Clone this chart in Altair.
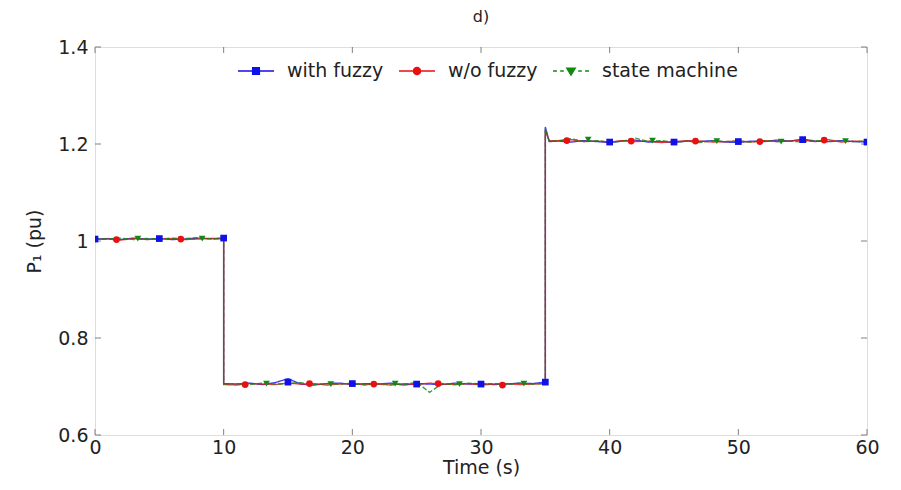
import altair as alt
import pandas as pd

series_names = ["with fuzzy", "w/o fuzzy", "state machine"]
series_colors = ["#1010e8", "#e81010", "#108a10"]
marker_shapes = ["square", "circle", "triangle-down"]
legend_paths = [
    "M-1,0H-0.19M0.19,0H1M-0.19,-0.19H0.19V0.19H-0.19Z",
    "M-1,0H-0.2M0.2,0H1M0.2,0A0.2,0.2,0,1,1,-0.2,0A0.2,0.2,0,1,1,0.2,0Z",
    "M-1,0H-0.78M-0.6,0H-0.4M0.4,0H0.6M0.78,0H1M-0.24,-0.16L0.24,-0.16L0,0.24Z",
]

x_ticks = [0, 10, 20, 30, 40, 50, 60]
y_ticks = [0.6, 0.8, 1.0, 1.2, 1.4]

# time stamps of the recorded curves (s)
time_s = [0, 1, 2, 3, 4, 5, 6, 7, 8, 9, 10,
          10, 11, 12, 13, 14, 15, 16, 17, 18, 19, 20, 21, 22, 23, 24, 25,
          26, 27, 28, 29, 30, 31, 32, 33, 34, 35,
          35, 35.3, 36, 37, 38, 39, 40, 41, 42, 43, 44, 45, 46, 47, 48,
          49, 50, 51, 52, 53, 54, 55, 56, 57, 58, 59, 60]

p_with = [1.004, 1.005, 1.003, 1.006, 1.004, 1.005, 1.003, 1.004, 1.006, 1.005, 1.006,
          0.706, 0.705, 0.707, 0.704, 0.708, 0.716, 0.705, 0.703, 0.706, 0.707, 0.704,
          0.706, 0.705, 0.707, 0.703, 0.706, 0.705, 0.704, 0.707, 0.705, 0.706, 0.704,
          0.705, 0.707, 0.706, 0.709,
          1.235, 1.205, 1.206, 1.204, 1.207, 1.205, 1.203, 1.206, 1.208, 1.204, 1.205,
          1.203, 1.206, 1.205, 1.207, 1.204, 1.203, 1.206, 1.205, 1.208, 1.206, 1.210,
          1.206, 1.205, 1.207, 1.205, 1.204]

p_wo = [1.003, 1.004, 1.002, 1.005, 1.003, 1.004, 1.005, 1.003, 1.004, 1.005, 1.004,
        0.704, 0.703, 0.706, 0.705, 0.704, 0.707, 0.705, 0.706, 0.703, 0.705, 0.706,
        0.704, 0.705, 0.703, 0.706, 0.704, 0.707, 0.705, 0.704, 0.706, 0.703, 0.705,
        0.706, 0.704, 0.705, 0.706,
        1.228, 1.207, 1.207, 1.209, 1.205, 1.206, 1.204, 1.207, 1.205, 1.206, 1.203,
        1.205, 1.207, 1.206, 1.204, 1.205, 1.206, 1.204, 1.207, 1.205, 1.206, 1.208,
        1.205, 1.209, 1.204, 1.206, 1.205]

p_sm = [1.005, 1.004, 1.006, 1.003, 1.005, 1.004, 1.006, 1.005, 1.007, 1.004, 1.005,
        0.705, 0.706, 0.704, 0.707, 0.705, 0.706, 0.708, 0.704, 0.706, 0.705, 0.707,
        0.703, 0.706, 0.705, 0.704, 0.709, 0.688, 0.706, 0.704, 0.707, 0.705, 0.706,
        0.704, 0.707, 0.705, 0.706,
        1.232, 1.206, 1.206, 1.211, 1.205, 1.207, 1.204, 1.206, 1.212, 1.205, 1.207,
        1.204, 1.206, 1.203, 1.207, 1.205, 1.206, 1.204, 1.207, 1.205, 1.206, 1.204,
        1.207, 1.205, 1.206, 1.205, 1.206]

# marker positions
mk_t_with = [0, 5, 10, 15, 20, 25, 30, 35, 40, 45, 50, 55, 60]
mk_p_with = [1.004, 1.005, 1.006, 0.709, 0.706, 0.705, 0.705, 0.709, 1.204, 1.204, 1.205, 1.209, 1.204]
mk_t_wo = [1.67, 6.67, 11.67, 16.67, 21.67, 26.67, 31.67, 36.67, 41.67, 46.67, 51.67, 56.67]
mk_p_wo = [1.003, 1.004, 0.704, 0.706, 0.705, 0.706, 0.703, 1.207, 1.206, 1.206, 1.205, 1.208]
mk_t_sm = [3.33, 8.33, 13.33, 18.33, 23.33, 28.33, 33.33, 38.33, 43.33, 48.33, 53.33, 58.33]
mk_p_sm = [1.005, 1.005, 0.706, 0.705, 0.706, 0.705, 0.706, 1.209, 1.207, 1.206, 1.205, 1.206]

rows = []
for name, vals in zip(series_names, [p_with, p_wo, p_sm]):
    for i, (t, p) in enumerate(zip(time_s, vals)):
        rows.append({"t": t, "P": p, "series": name, "idx": i})
lines_df = pd.DataFrame(rows)

mrows = []
for name, ts, ps in zip(series_names, [mk_t_with, mk_t_wo, mk_t_sm], [mk_p_with, mk_p_wo, mk_p_sm]):
    for t, p in zip(ts, ps):
        mrows.append({"t": t, "P": p, "series": name})
markers_df = pd.DataFrame(mrows)

xt_df = pd.DataFrame({"t": x_ticks})
yt_df = pd.DataFrame({"P": y_ticks})

FONT = "DejaVu Sans"
TXT = "#222222"
BOX = "#808080"
W, H = 772, 388

x_scale = alt.Scale(domain=[0, 60], nice=False, zero=False)
y_scale = alt.Scale(domain=[0.6, 1.4], nice=False, zero=False)
x_axis = alt.Axis(values=x_ticks, title="Time (s)", ticks=False, domain=False, grid=False,
                  labelPadding=3, titlePadding=1, labelFontSize=19, titleFontSize=19,
                  labelFont=FONT, titleFont=FONT, titleFontWeight="normal",
                  labelColor=TXT, titleColor=TXT, labelFlush=False)
y_axis = alt.Axis(values=y_ticks, title="P\u2081 (pu)", ticks=False, domain=False, grid=False,
                  format=".1~f", labelPadding=7, titlePadding=13, labelFontSize=19,
                  titleFontSize=19, labelFont=FONT, titleFont=FONT, titleFontWeight="normal",
                  labelColor=TXT, titleColor=TXT, labelFlush=False)

X = alt.X("t:Q", scale=x_scale, axis=x_axis)
Y = alt.Y("P:Q", scale=y_scale, axis=y_axis)

color_scale = alt.Scale(domain=series_names, range=series_colors)

lines = alt.Chart(lines_df).mark_line(strokeWidth=1.4, opacity=0.8, clip=True).encode(
    x=X, y=Y,
    color=alt.Color("series:N", scale=color_scale, legend=None),
    strokeDash=alt.StrokeDash("series:N",
                              scale=alt.Scale(domain=series_names, range=[[1, 0], [1, 0], [5, 2]]),
                              legend=None),
    order="idx:Q",
)

markers = alt.Chart(markers_df).mark_point(filled=True, opacity=1, size=45, clip=True).encode(
    x=X, y=Y,
    color=alt.Color("series:N", scale=color_scale, legend=None),
    shape=alt.Shape("series:N", scale=alt.Scale(domain=series_names, range=marker_shapes), legend=None),
)

leg = alt.Legend(title=None, orient="none", legendX=142, legendY=5, direction="horizontal",
                 symbolSize=1296, symbolStrokeWidth=1.3, labelFontSize=19, labelFont=FONT,
                 labelColor=TXT, labelOffset=12, columnPadding=12, padding=0, labelLimit=0)

legend_layer = alt.Chart(markers_df).mark_point(filled=True, opacity=1, strokeWidth=1.3).encode(
    x=X, y=Y,
    fill=alt.Fill("series:N", scale=alt.Scale(domain=series_names, range=series_colors), legend=leg),
    stroke=alt.Stroke("series:N", scale=alt.Scale(domain=series_names, range=series_colors), legend=leg),
    shape=alt.Shape("series:N", scale=alt.Scale(domain=series_names, range=legend_paths), legend=leg),
).transform_filter("false")

tick_left = alt.Chart(yt_df).mark_rule(color=BOX, strokeWidth=1).encode(
    y=Y, x=alt.value(0), x2=alt.value(6))
tick_right = alt.Chart(yt_df).mark_rule(color=BOX, strokeWidth=1).encode(
    y=Y, x=alt.value(W - 6), x2=alt.value(W))
tick_bottom = alt.Chart(xt_df).mark_rule(color=BOX, strokeWidth=1).encode(
    x=X, y=alt.value(H), y2=alt.value(H - 6))
tick_top = alt.Chart(xt_df).mark_rule(color=BOX, strokeWidth=1).encode(
    x=X, y=alt.value(0), y2=alt.value(6))

chart = alt.layer(
    tick_left, tick_right, tick_bottom, tick_top, lines, markers, legend_layer
).resolve_scale(
    shape="independent", fill="independent", stroke="independent"
).properties(
    width=W, height=H,
    title=alt.Title("d)", fontSize=16, font=FONT, fontWeight="normal", color=TXT,
                    offset=13, anchor="middle"),
    padding={"left": 17, "top": 1, "right": 5, "bottom": 2},
).configure_view(
    stroke=BOX, strokeWidth=1.5
).configure(background="white")

chart.save("out.html", embed_options={"renderer": "svg", "actions": False})
